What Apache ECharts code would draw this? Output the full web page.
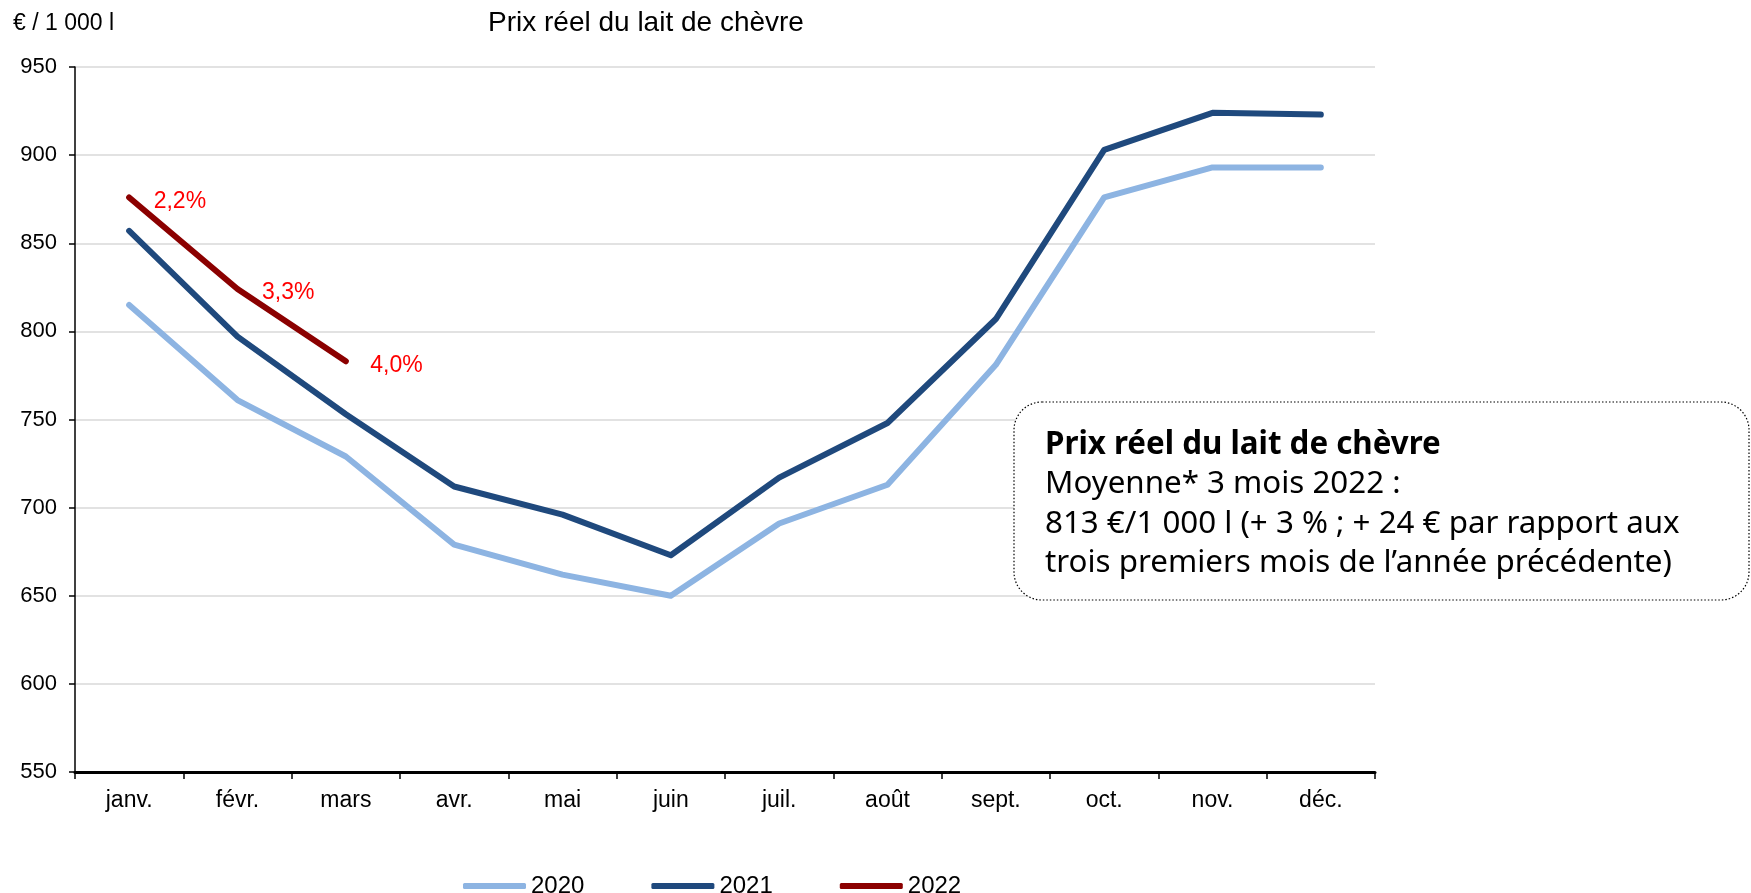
<!DOCTYPE html>
<html>
<head>
<meta charset="utf-8">
<script src="https://cdn.jsdelivr.net/npm/echarts@6/dist/echarts.min.js"></script>
<style>
  html, body { margin: 0; padding: 0; background: #fff; }
  #chart { width: 1751px; height: 893px; }
</style>
</head>
<body>
<div id="chart"></div>
<script>
const months = ['janv.', 'févr.', 'mars', 'avr.', 'mai', 'juin', 'juil.', 'août', 'sept.', 'oct.', 'nov.', 'déc.'];
const prix2020 = [815, 761, 729, 679, 662, 650, 691, 713, 781, 876, 893, 893];
const prix2021 = [857, 797, 753, 712, 696, 673, 717, 748, 807, 903, 924, 923];
const prix2022 = [876, 824, 783];
const evol2022 = ['2,2%', '3,3%', '4,0%'];

const font = 'Liberation Sans, Arial, sans-serif';
const boxFont = 'Noto Sans, sans-serif';

function lineSerie(name, data, color, z) {
  return {
    name: name,
    type: 'line',
    data: data,
    symbol: 'circle',
    symbolSize: 1,
    showSymbol: true,
    z: z,
    lineStyle: { color: color, width: 6, cap: 'round', join: 'round' },
    itemStyle: { color: color }
  };
}

const chart = echarts.init(document.getElementById('chart'));

const s2022 = lineSerie('2022', prix2022, '#8b0000', 4);
s2022.label = {
  show: true,
  position: 'right',
  distance: 24,
  offset: [0, 4],
  color: '#ff0000',
  fontFamily: font,
  fontSize: 23,
  formatter: function (p) { return evol2022[p.dataIndex]; }
};

chart.setOption({
  animation: false,
  grid: { left: 75, right: 376, top: 67, bottom: 121 },
  legend: {
    left: 458,
    top: 869,
    itemWidth: 63,
    itemHeight: 6,
    itemGap: 67,
    icon: 'roundRect',
    textStyle: { fontFamily: font, fontSize: 24, color: '#000' },
    data: ['2020', '2021', '2022']
  },
  xAxis: {
    type: 'category',
    data: months,
    boundaryGap: true,
    axisLine: { lineStyle: { color: '#000', width: 3 } },
    axisTick: { show: true, length: 7, lineStyle: { color: '#000', width: 1.5 } },
    axisLabel: { color: '#000', fontFamily: font, fontSize: 23, margin: 17 }
  },
  yAxis: {
    type: 'value',
    min: 550,
    max: 950,
    interval: 50,
    axisLine: { show: true, lineStyle: { color: '#000', width: 1.5 } },
    axisTick: { show: true, length: 6, lineStyle: { color: '#000', width: 1.5 } },
    axisLabel: { color: '#000', fontFamily: font, fontSize: 22, margin: 18 },
    splitLine: { lineStyle: { color: '#d9d9d9', width: 1.5 } }
  },
  series: [
    lineSerie('2020', prix2020, '#8db4e2', 2),
    lineSerie('2021', prix2021, '#1f497d', 3),
    s2022
  ],
  graphic: [
    {
      type: 'text',
      left: 13,
      top: 12,
      style: { text: '€ / 1 000 l', fontFamily: font, fontSize: 23, fill: '#000' }
    },
    {
      type: 'text',
      left: 488,
      top: 9,
      style: { text: 'Prix réel du lait de chèvre', fontFamily: font, fontSize: 28, fill: '#000' }
    },
    {
      type: 'rect',
      shape: { x: 1014, y: 402, width: 735, height: 198, r: 28 },
      style: { fill: '#fff', stroke: '#000', lineWidth: 1.2, lineDash: [1.5, 2] },
      z: 10
    },
    {
      type: 'text',
      x: 1045,
      y: 425,
      z: 11,
      style: {
        text: '{b|Prix réel du lait de chèvre}\nMoyenne* 3 mois 2022 :\n813 €/1 000 l (+ 3 % ; + 24 € par rapport aux\ntrois premiers mois de l’année précédente)',
        fontFamily: boxFont,
        fontSize: 31.3,
        lineHeight: 39.5,
        fill: '#000',
        rich: {
          b: { fontFamily: boxFont, fontSize: 31.3, fontWeight: 'bold', lineHeight: 39.5, fill: '#000' }
        }
      }
    }
  ]
});
</script>
</body>
</html>
